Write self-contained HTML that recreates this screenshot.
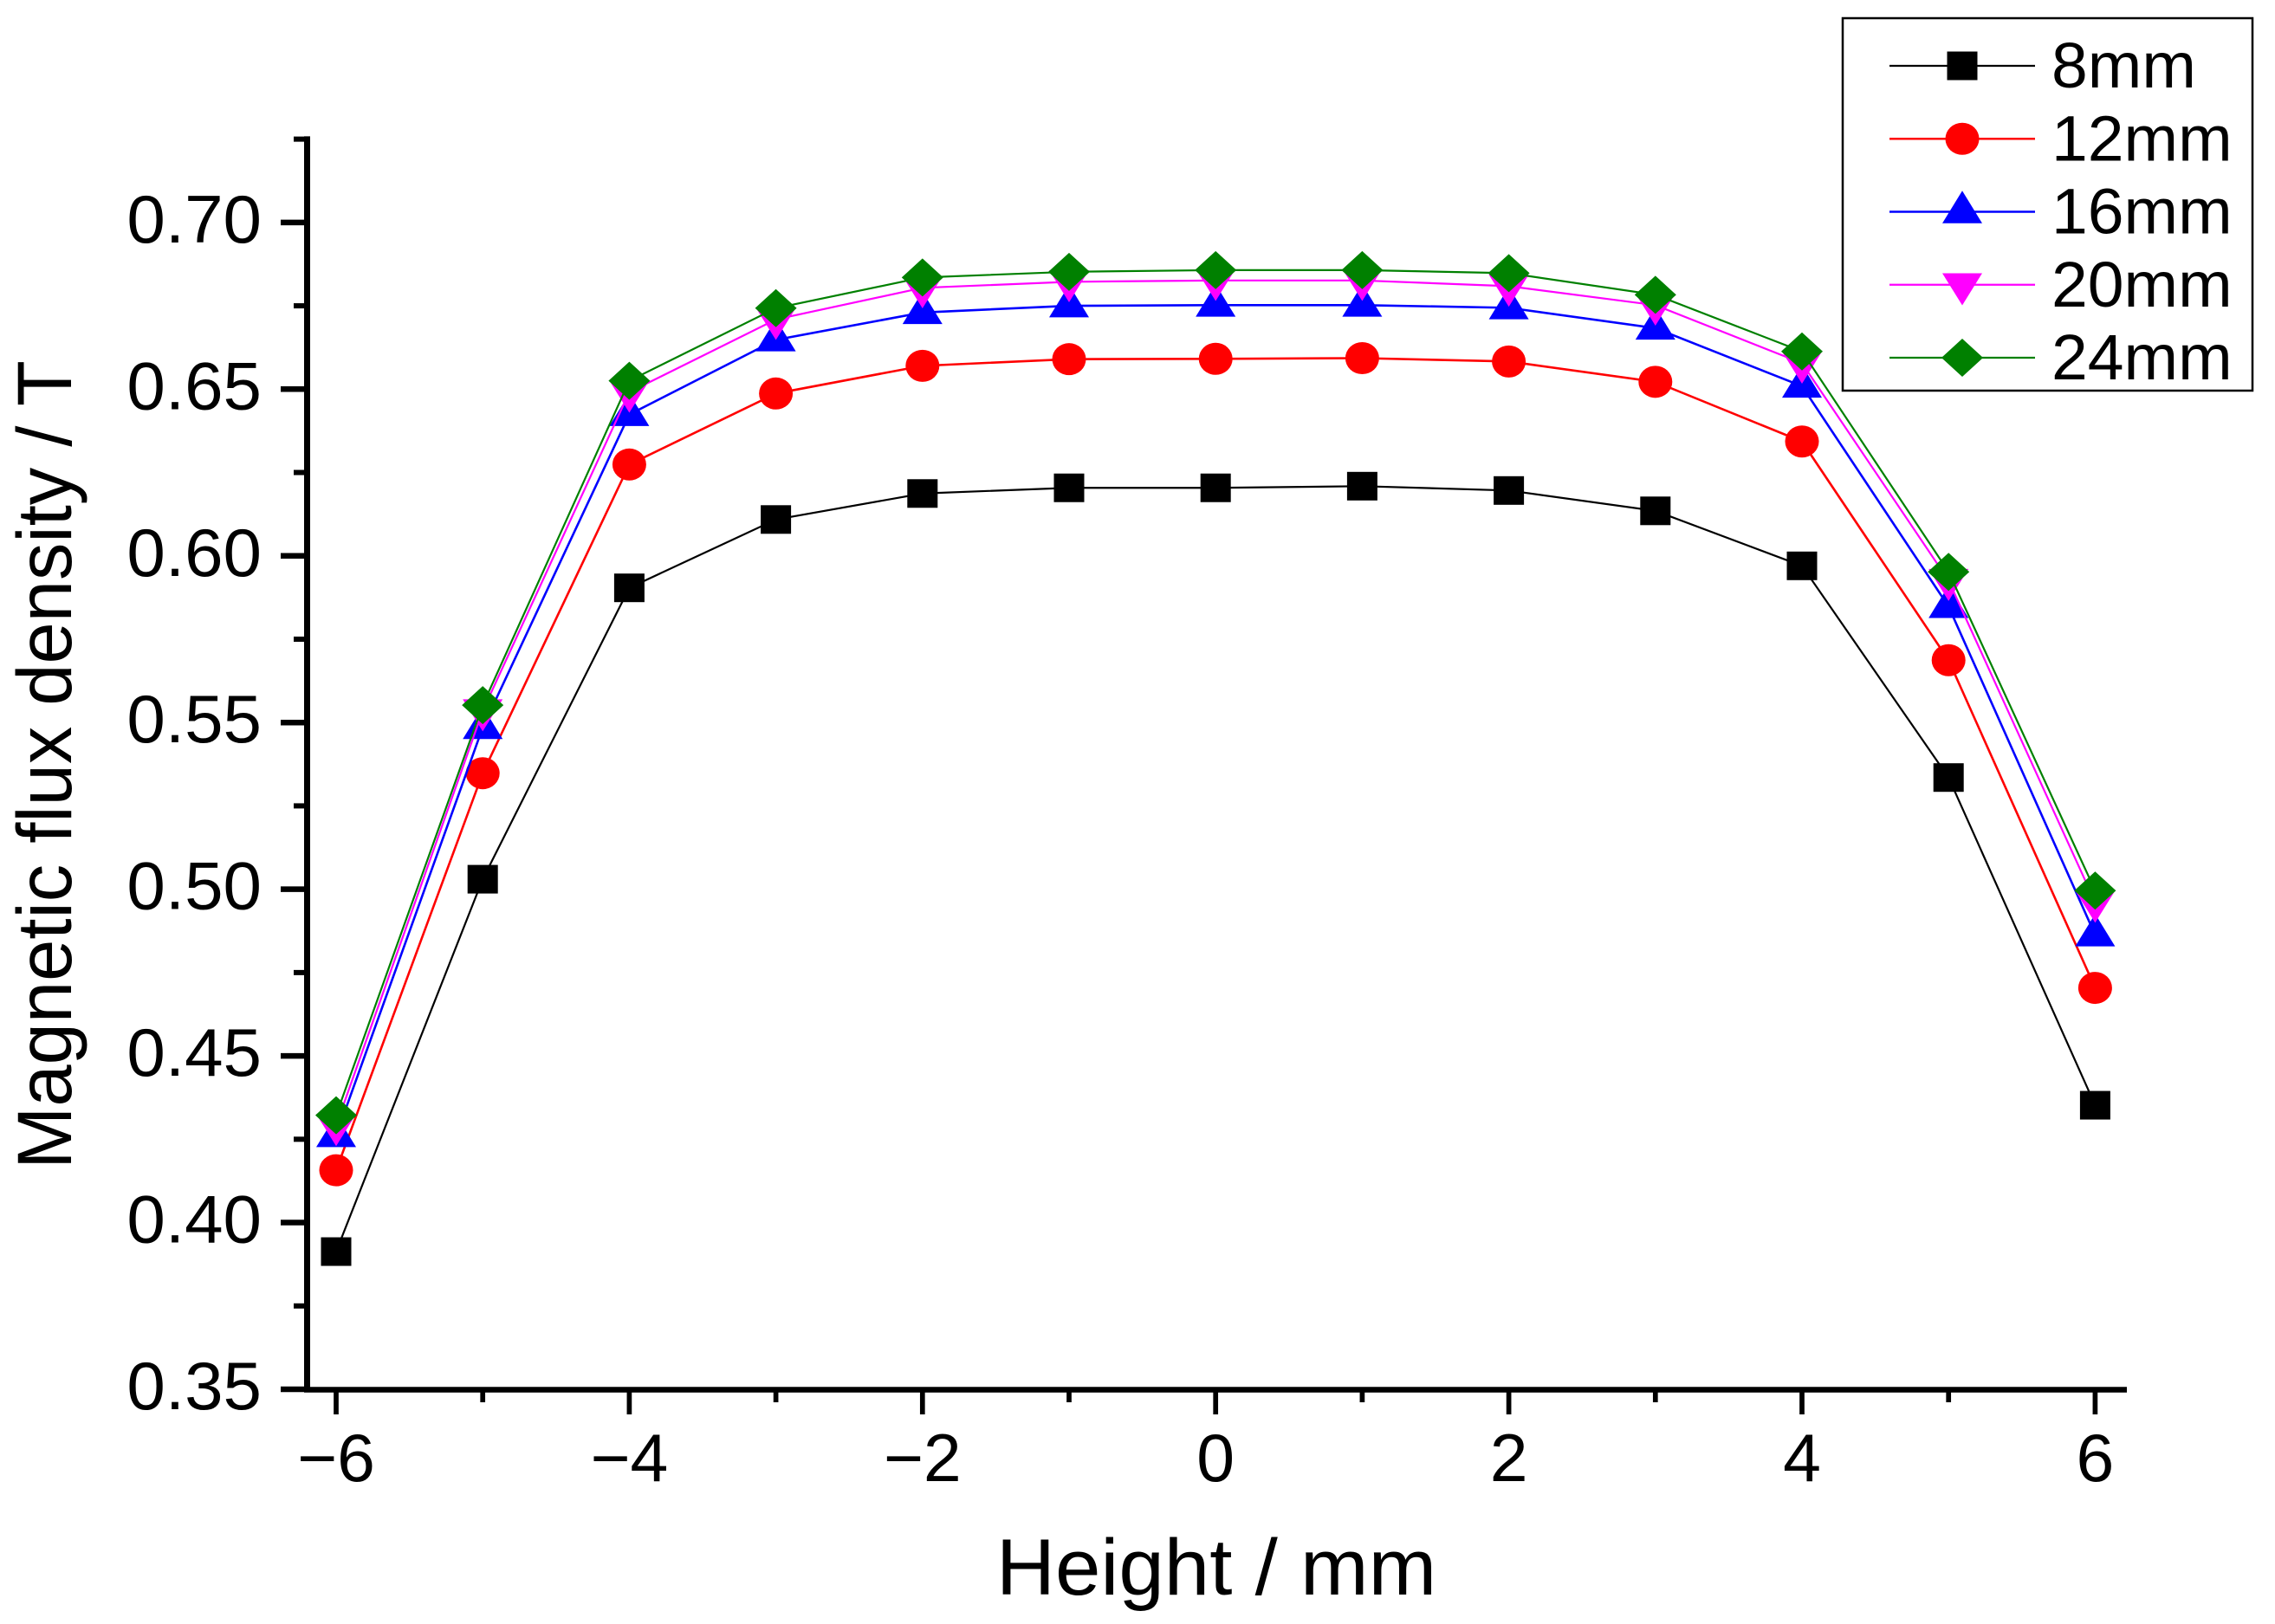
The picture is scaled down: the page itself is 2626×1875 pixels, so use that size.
<!DOCTYPE html>
<html lang="en">
<head>
<meta charset="utf-8">
<title>Magnetic flux density vs height</title>
<style>
  html, body { margin: 0; padding: 0; background: #fff; }
  svg { display: block; }
  text { font-family: "Liberation Sans", Arial, sans-serif; fill: #000; }
</style>
</head>
<body>
<svg id="chart" xmlns="http://www.w3.org/2000/svg" width="2626" height="1875" viewBox="0 0 2626 1875">
  <rect x="0" y="0" width="2626" height="1875" fill="#fff"/>
  <text transform="translate(82,883) rotate(-90) scale(0.975,1)" text-anchor="middle" font-size="89">Magnetic flux density / T</text>
  <text transform="translate(1404,1841) scale(1.025,1)" text-anchor="middle" font-size="92">Height / mm</text>
  <rect x="2127" y="21" width="473" height="430" fill="#fff" stroke="#000" stroke-width="2.5"/>
</svg>
<script>
const heights = [-6, -5, -4, -3, -2, -1, 0, 1, 2, 3, 4, 5, 6];
const seriesNames = ['8mm', '12mm', '16mm', '20mm', '24mm'];
const values8mm = [0.3913, 0.5030, 0.5904, 0.6109, 0.6187, 0.6204, 0.6204, 0.6209, 0.6196, 0.6135, 0.5970, 0.5335, 0.4352];
const values12mm = [0.4157, 0.5348, 0.6274, 0.6487, 0.6570, 0.6590, 0.6591, 0.6593, 0.6583, 0.6522, 0.6343, 0.5687, 0.4704];
const values16mm = [0.4261, 0.5485, 0.6424, 0.6648, 0.6730, 0.6750, 0.6752, 0.6752, 0.6744, 0.6683, 0.6509, 0.5848, 0.4863];
const values20mm = [0.4291, 0.5535, 0.6491, 0.6709, 0.6804, 0.6822, 0.6826, 0.6826, 0.6809, 0.6752, 0.6578, 0.5926, 0.4961];
const values24mm = [0.4322, 0.5552, 0.6525, 0.6743, 0.6835, 0.6852, 0.6857, 0.6857, 0.6848, 0.6783, 0.6613, 0.5952, 0.4996];
const xMajorTicks = [-6, -4, -2, 0, 2, 4, 6];
const xMinorTicks = [-5, -3, -1, 1, 3, 5];
const yMajorTicks = [0.35, 0.40, 0.45, 0.50, 0.55, 0.60, 0.65, 0.70];
const yMinorTicks = [0.375, 0.425, 0.475, 0.525, 0.575, 0.625, 0.675, 0.725];

const SVG_NS = 'http://www.w3.org/2000/svg';
const svg = document.getElementById('chart');
const seriesValues = [values8mm, values12mm, values16mm, values20mm, values24mm];
const seriesColors = ['#000000', '#ff0000', '#0000ff', '#ff00ff', '#008000'];
const seriesWidths = [2.2, 2.6, 2.6, 2.2, 2.2];
const seriesShapes = ['square', 'circle', 'up', 'down', 'diamond'];

function xPos(v) { return 388 + (v + 6) * 169.2; }
function yPos(v) { return 1604 - (v - 0.35) * 3849; }

function make(tag, attrs) {
  const el = document.createElementNS(SVG_NS, tag);
  for (const k in attrs) el.setAttribute(k, attrs[k]);
  return el;
}

function markerShape(shape, cx, cy, color) {
  if (shape === 'square') return make('rect', { x: cx - 17.5, y: cy - 16.5, width: 35, height: 33, fill: color });
  if (shape === 'circle') return make('ellipse', { cx: cx, cy: cy, rx: 19.5, ry: 18.5, fill: color });
  if (shape === 'up') return make('polygon', { points: `${cx},${cy - 24.3} ${cx + 23},${cy + 13.3} ${cx - 23},${cy + 13.3}`, fill: color });
  if (shape === 'down') return make('polygon', { points: `${cx - 23},${cy - 13.3} ${cx + 23},${cy - 13.3} ${cx},${cy + 23.7}`, fill: color });
  return make('polygon', { points: `${cx},${cy - 22} ${cx + 24},${cy} ${cx},${cy + 22} ${cx - 24},${cy}`, fill: color });
}

/* series */
seriesNames.forEach(function (name, s) {
  const group = make('g', {});
  
  
  const pts = heights.map(function (h, i) { return xPos(h) + ',' + yPos(seriesValues[s][i]); }).join(' ');
  const line = make('polyline', { points: pts, fill: 'none', stroke: seriesColors[s], 'stroke-width': seriesWidths[s] });
  
  
  group.appendChild(line);
  heights.forEach(function (h, i) {
    const m = markerShape(seriesShapes[s], xPos(h), yPos(seriesValues[s][i]), seriesColors[s]);
    
    
    group.appendChild(m);
  });
  svg.appendChild(group);
});

/* axes */
const yAxisLine = make('line', { x1: 354.5, x2: 354.5, y1: yPos(0.725) - 3.2, y2: 1607, stroke: '#000', 'stroke-width': 7 });


svg.appendChild(yAxisLine);

const xAxisLine = make('line', { x1: 351, x2: 2455, y1: 1604.5, y2: 1604.5, stroke: '#000', 'stroke-width': 6.5 });


svg.appendChild(xAxisLine);

yMajorTicks.forEach(function (v) {
  const y = yPos(v);
  const tick = make('line', { x1: 324, x2: 352, y1: y, y2: y, stroke: '#000', 'stroke-width': 6.5 });
  
  
  svg.appendChild(tick);
  const label = make('text', { transform: `translate(302,${y + 23}) scale(1.025,1)`, 'text-anchor': 'end', 'font-size': 78 });
  label.textContent = v.toFixed(2);
  
  
  svg.appendChild(label);
});

yMinorTicks.forEach(function (v) {
  const y = yPos(v);
  const tick = make('line', { x1: 339, x2: 352, y1: y, y2: y, stroke: '#000', 'stroke-width': 6 });
  
  
  svg.appendChild(tick);
});

xMajorTicks.forEach(function (v) {
  const x = xPos(v);
  const tick = make('line', { x1: x, x2: x, y1: 1607, y2: 1633, stroke: '#000', 'stroke-width': 5.7 });
  
  
  svg.appendChild(tick);
  const label = make('text', { transform: `translate(${x},1710) scale(1.01,1)`, 'text-anchor': 'middle', 'font-size': 78 });
  label.textContent = String(v).replace('-', '\u2212');
  
  
  svg.appendChild(label);
});

xMinorTicks.forEach(function (v) {
  const x = xPos(v);
  const tick = make('line', { x1: x, x2: x, y1: 1607, y2: 1619, stroke: '#000', 'stroke-width': 5.7 });
  
  
  svg.appendChild(tick);
});

/* legend */
seriesNames.forEach(function (name, s) {
  const rowY = 76 + s * 84.25;
  const entry = make('g', {});
  
  
  const sample = make('line', { x1: 2181, x2: 2349, y1: rowY, y2: rowY, stroke: seriesColors[s], 'stroke-width': seriesWidths[s] });
  
  
  entry.appendChild(sample);
  const mark = markerShape(seriesShapes[s], 2265, rowY, seriesColors[s]);
  
  
  entry.appendChild(mark);
  const label = make('text', { transform: `translate(2368,${rowY + 25}) scale(1.015,1)`, 'font-size': 74 });
  label.textContent = name;
  
  
  entry.appendChild(label);
  svg.appendChild(entry);
});
</script>
</body>
</html>
